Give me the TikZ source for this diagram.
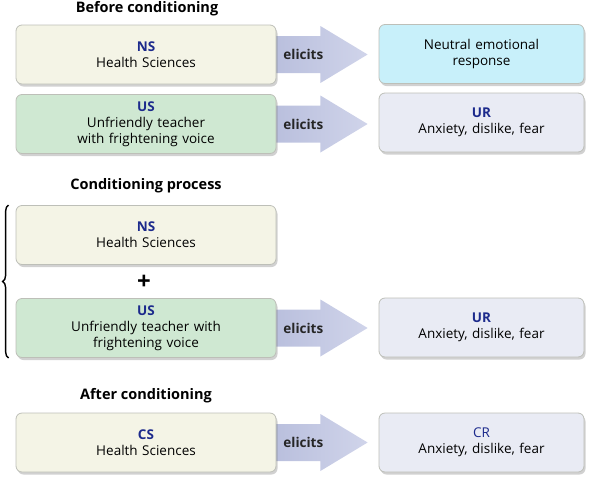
\documentclass[tikz,border=0pt]{standalone}
\usepackage{fontspec}
\setmainfont{Open Sans}
\usetikzlibrary{shadows,decorations.pathreplacing,calc}
\definecolor{nsfill}{HTML}{F4F4E6}
\definecolor{usfill}{HTML}{CFE8D2}
\definecolor{neufill}{HTML}{C8F0FA}
\definecolor{urfill}{HTML}{E9EBF4}
\definecolor{arrowleft}{HTML}{B9BFDD}
\definecolor{arrowright}{HTML}{D0D4EA}
\definecolor{labblue}{HTML}{1C2A8C}
\definecolor{boxline}{HTML}{BDBFB8}
\pgfdeclarelayer{background}
\pgfsetlayers{background,main}
\newcommand{\lab}[1]{{\bfseries\color{labblue}#1}}
\newcommand{\elicitarrow}[2]{%
  \begin{pgfonlayer}{background}
  \shade[left color=arrowleft, right color=arrowright] ($(#1.east)+(-3,-18.5)$) -- ($(#1.east)+(44,-18.5)$) -- ($(#1.east)+(44,-28.5)$)
     -- ([xshift=-11pt]#2.west |- #1.east) -- ($(#1.east)+(44,28.5)$) -- ($(#1.east)+(44,18.5)$)
     -- ($(#1.east)+(-3,18.5)$) -- cycle;
  \end{pgfonlayer}
  \node[eltext] (#1el) at ($(#1.east)+(27,0)$) {elicits};}
\begin{document}
\begin{tikzpicture}[x=1pt,y=-1pt,
  box/.style={rounded corners=6pt, draw=boxline, line width=0.8pt, minimum height=59pt,
    align=center, font=\fontsize{13.5}{16}\selectfont, inner sep=2pt,
    drop shadow={shadow xshift=1.5pt, shadow yshift=-2.5pt, opacity=0.3, fill=black!60}},
  leftbox/.style={box, minimum width=260pt, text width=250pt},
  rightbox/.style={box, minimum width=205pt, text width=195pt},
  title/.style={font=\fontsize{14.5}{16}\selectfont\bfseries},
  eltext/.style={font=\fontsize{13.5}{15}\selectfont\bfseries, text=black!85}]
\useasboundingbox (0,0) rectangle (600,496);

\node[title] (t1) at (147,9) {Before conditioning};
\node[leftbox, fill=nsfill] (ns1) at (146,54.5) {\lab{NS}\\Health Sciences};
\node[leftbox, fill=usfill] (us1) at (146,124) {\lab{US}\\Unfriendly teacher\\with frightening voice};
\node[rightbox, fill=neufill] (neu) at (481.5,54) {Neutral emotional\\response};
\node[rightbox, fill=urfill] (ur1) at (481.5,122.5) {\lab{UR}\\Anxiety, dislike, fear};
\elicitarrow{ns1}{neu}
\elicitarrow{us1}{ur1}

\node[title] (t2) at (146,186) {Conditioning process};
\node[leftbox, fill=nsfill] (ns2) at (146,235) {\lab{NS}\\Health Sciences};
\node[font=\fontsize{24}{24}\selectfont\bfseries] (plus) at (144,282) {+};
\node[leftbox, fill=usfill] (us2) at (146,328) {\lab{US}\\Unfriendly teacher with\\frightening voice};
\node[rightbox, fill=urfill] (ur2) at (481.5,327.5) {\lab{UR}\\Anxiety, dislike, fear};
\elicitarrow{us2}{ur2}
\draw[decorate, decoration={brace, amplitude=6pt}, line width=1.4pt]
  ([xshift=-7pt]us2.south west) -- ([xshift=-7pt]ns2.north west);

\node[title] (t3) at (146,396) {After conditioning};
\node[leftbox, fill=nsfill] (cs) at (146,442.5) {\lab{CS}\\Health Sciences};
\node[rightbox, fill=urfill] (cr) at (481.5,442.5) {{\color{labblue}CR}\\Anxiety, dislike, fear};
\elicitarrow{cs}{cr}
\end{tikzpicture}
\end{document}
